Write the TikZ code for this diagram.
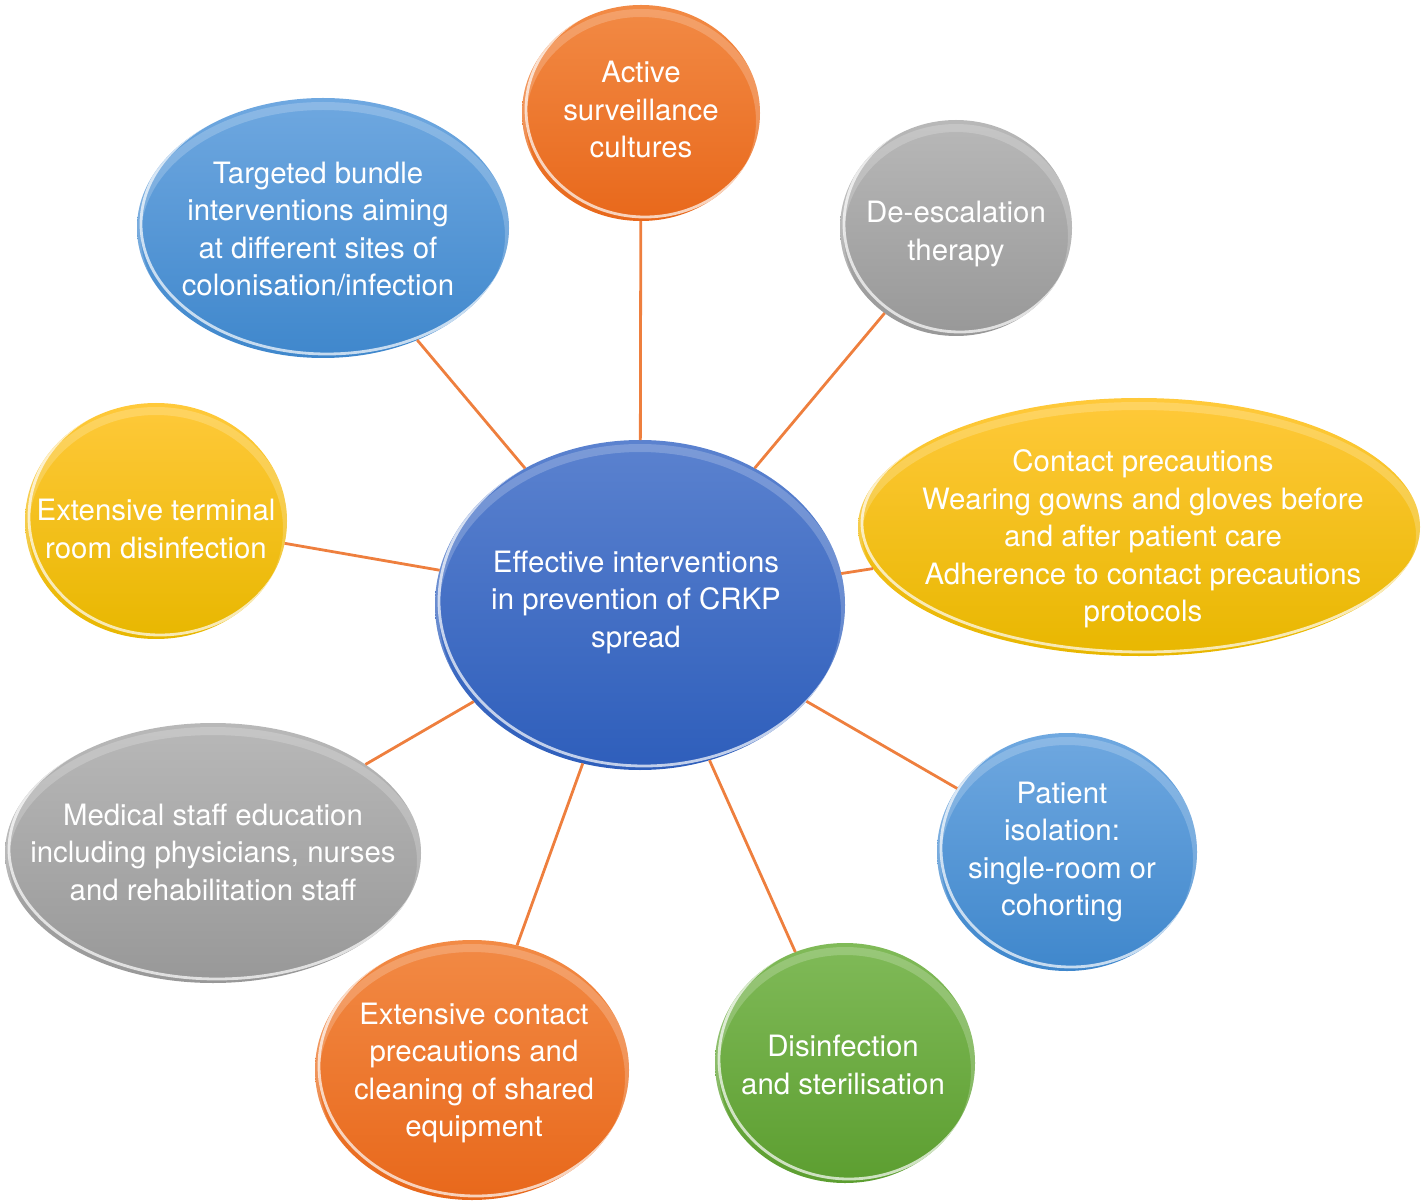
\documentclass[tikz,border=0pt]{standalone}
\usepackage{fontspec}
\setmainfont{TeX Gyre Heros}
\usetikzlibrary{shapes.geometric,calc}

\definecolor{linkorange}{HTML}{EE7F3E}
\definecolor{blueT}{HTML}{5B82CF}
\definecolor{blueB}{HTML}{2E5EBB}
\definecolor{orangeT}{HTML}{F28A45}
\definecolor{orangeB}{HTML}{E8681B}
\definecolor{grayT}{HTML}{B8B8B8}
\definecolor{grayB}{HTML}{989898}
\definecolor{yellowT}{HTML}{FFC93A}
\definecolor{yellowB}{HTML}{E8B700}
\definecolor{skyT}{HTML}{6FA8E0}
\definecolor{skyB}{HTML}{3F87CC}
\definecolor{greenT}{HTML}{80BA58}
\definecolor{greenB}{HTML}{5C9E30}

\tikzset{
  bubble/.style={ellipse, inner sep=0pt, outer sep=0pt,
    path picture={
      \draw[white, line width=1.4pt, opacity=.7]
        let \p1=($(path picture bounding box.north east)-(path picture bounding box.center)$) in
        ([shift={(2pt,2pt)}]path picture bounding box.center) ellipse [x radius=\x1, y radius=\y1];
      \draw[white, line width=4pt, opacity=.2]
        let \p1=($(path picture bounding box.north east)-(path picture bounding box.center)$) in
        ([shift={(0pt,-4pt)}]path picture bounding box.center) ellipse [x radius=\x1, y radius=\y1];
    }},
  blueb/.style={bubble, top color=blueT, bottom color=blueB},
  orangeb/.style={bubble, top color=orangeT, bottom color=orangeB},
  grayb/.style={bubble, top color=grayT, bottom color=grayB},
  yellowb/.style={bubble, top color=yellowT, bottom color=yellowB},
  skyb/.style={bubble, top color=skyT, bottom color=skyB},
  greenb/.style={bubble, top color=greenT, bottom color=greenB},
  txt/.style={text=white, align=center, inner sep=0pt, yshift=-1.5pt, font=\fontsize{14.7}{18.75}\selectfont},
  link/.style={draw=linkorange, line width=1.4pt}
}

\begin{document}
\begin{tikzpicture}[x=0.5pt, y=-0.5pt]
  \useasboundingbox (0,0) rectangle (1424,1203);

  % Blasen (Breite/Hoehe in pt = Radius in px)
  \node[blueb,   minimum width=205pt, minimum height=165pt] (ctr) at (640,605) {};
  \node[orangeb, minimum width=119pt, minimum height=108pt] (act) at (641,113) {};
  \node[grayb,   minimum width=116pt, minimum height=108pt] (desc) at (956,228) {};
  \node[yellowb, minimum width=281pt, minimum height=129pt] (cont) at (1139,527) {};
  \node[skyb,    minimum width=130pt, minimum height=119pt] (iso) at (1067,852) {};
  \node[greenb,  minimum width=130pt, minimum height=120pt] (dis) at (845,1063) {};
  \node[orangeb, minimum width=157pt, minimum height=130pt] (clean) at (472,1070) {};
  \node[grayb,   minimum width=208pt, minimum height=130pt] (edu) at (213,853) {};
  \node[yellowb, minimum width=131pt, minimum height=118pt] (term) at (156,521) {};
  \node[skyb,    minimum width=186pt, minimum height=130pt] (bund) at (323,228) {};

  % Texte
  \node[txt] (t-ctr) at (636,599) {Effective interventions\\in prevention of CRKP\\spread};
  \node[txt] (t-act) at (641,107) {Active\\surveillance\\cultures};
  \node[txt] (t-desc) at (956,231) {De-escalation\\therapy};
  \node[txt] (t-cont) at (1143,536) {Contact precautions\\Wearing gowns and gloves before\\and after patient care\\Adherence to contact precautions\\protocols};
  \node[txt] (t-iso) at (1062,849) {Patient\\isolation:\\single-room or\\cohorting};
  \node[txt] (t-dis) at (843,1062) {Disinfection\\and sterilisation};
  \node[txt] (t-clean) at (474,1070) {Extensive contact\\precautions and\\cleaning of shared\\equipment};
  \node[txt] (t-edu) at (213,849) {Medical staff education\\including physicians, nurses\\and rehabilitation staff};
  \node[txt] (t-term) at (156,526) {Extensive terminal\\room disinfection};
  \node[txt] (t-bund) at (318,226) {Targeted bundle\\interventions aiming\\at different sites of\\colonisation/infection};

  % Verbindungslinien
  \foreach \n in {act,desc,cont,iso,dis,clean,edu,term,bund}
    \draw[link] (ctr) -- (\n);
\end{tikzpicture}
\end{document}
